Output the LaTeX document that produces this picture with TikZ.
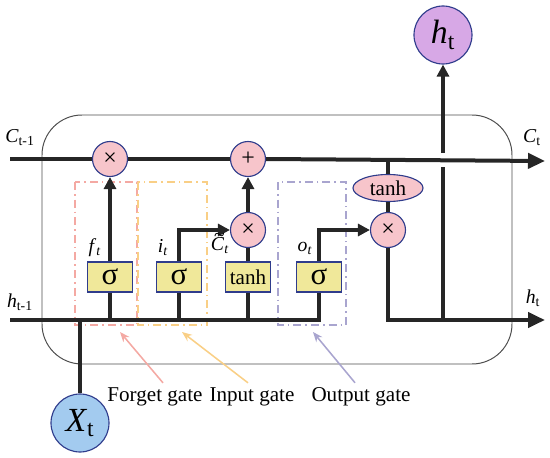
\documentclass[tikz,border=0pt]{standalone}
\usepackage{fontspec}
\setmainfont{Liberation Serif}
\usetikzlibrary{arrows.meta,positioning,shapes.geometric}
\definecolor{oppink}{HTML}{F7C5CB}
\definecolor{edgeblue}{HTML}{2F3C8C}
\definecolor{gateyellow}{HTML}{F0E89A}
\definecolor{xblue}{HTML}{A3CBEF}
\definecolor{hpurple}{HTML}{D7A8E6}
\definecolor{fgcol}{HTML}{F4A9A3}
\definecolor{igcol}{HTML}{F9CF86}
\definecolor{ogcol}{HTML}{A9A5CF}
\newcommand{\ctil}{\ooalign{\textit{C}\cr\hidewidth\kern0.2em\raisebox{0.5em}{\textasciitilde}\hidewidth\cr}}

\begin{document}
\begin{tikzpicture}[x=0.25mm,y=-0.25mm,
  op/.style={circle,draw=edgeblue,fill=oppink,line width=0.8pt,minimum size=8.75mm,inner sep=0pt,font=\fontsize{17}{17}\selectfont},
  gt/.style={rectangle,draw=edgeblue,fill=gateyellow,line width=0.8pt,minimum width=11.25mm,minimum height=7.5mm,inner sep=0pt},
  io/.style={circle,draw=edgeblue,line width=0.8pt,minimum size=14.5mm,inner sep=0pt,font=\fontsize{24}{24}\selectfont},
  ed/.style={line width=1mm,black!85},
  ar/.style={ed,-{Triangle[length=3mm,width=3mm]}},
  big/.style={ed,-{Triangle[length=4.25mm,width=3.75mm]}},
  gbox/.style={line width=1.1pt,dash pattern=on 2mm off 1mm on 0.4mm off 1mm},
  garr/.style={line width=1.1pt,-{Stealth[length=2.5mm,width=2mm]}},
  lb/.style={font=\fontsize{14}{16}\selectfont},
  vl/.style={font=\fontsize{15}{16}\selectfont}
]
\useasboundingbox (0,0) rectangle (550,458);
% ---- cell frame and gate regions ----
\draw[black!70,line width=0.7pt,rounded corners=10mm] (42,115) rectangle (512,364);
\draw[gbox,fgcol] (75,182) rectangle (137,325);
\draw[gbox,igcol] (138,182) rectangle (207,325);
\draw[gbox,ogcol] (278,182) rectangle (346,325);
% ---- operations ----
\node[op] (mf) at (110,159) {×};
\node[op] (pl) at (248,159) {+};
\node[op] (mi) at (248,230) {×};
\node[op] (mo) at (388,230) {×};
\node[ellipse,draw=edgeblue,fill=oppink,line width=0.8pt,minimum width=17.5mm,minimum height=6.75mm,inner sep=0pt,font=\fontsize{15}{15}\selectfont] (th) at (388,188) {tanh};
\node[gt,font=\fontsize{22}{22}\selectfont] (sf) at (110,277) {σ};
\node[gt,font=\fontsize{22}{22}\selectfont] (si) at (179,277) {σ};
\node[gt,font=\fontsize{15}{15}\selectfont] (st) at (248,277) {tanh};
\node[gt,font=\fontsize{22}{22}\selectfont] (so) at (319,277) {σ};
\node[io,fill=hpurple] (hto) at (443,35) {\textit{h}\textsubscript{t}};
\node[io,fill=xblue] (xt) at (80,423) {\textit{X}\textsubscript{t}};
% ---- line ends ----
\coordinate (cin) at (10,159);
\coordinate (cout) at (545,161);
\coordinate (hin) at (10,320);
\coordinate (hout) at (545,320);
\coordinate (cj) at (388,160);
\coordinate (hj) at (443,320);
\coordinate (hlo) at (443,167);
\coordinate (hhi) at (443,153);
% ---- flows ----
\draw[ed] (hj) -- (hlo);
\draw[ar] (hhi) -- (hto.south);
\draw[ed] (cin) -- (mf.west);
\draw[ed] (mf.east) -- (pl.west);
\draw[big] (pl.east) -- (cout);
\draw[ed] (hin) -| (so.south);
\draw[ed] (sf.south) -- (sf.south |- hin);
\draw[ed] (si.south) -- (si.south |- hin);
\draw[ed] (st.south) -- (st.south |- hin);
\draw[ed] (xt.north) -- (xt.north |- hin);
\draw[ar] (sf.north) -- (mf.south);
\draw[ar] (si.north) |- (mi.west);
\draw[ed] (st.north) -- (mi.south);
\draw[ar] (mi.north) -- (pl.south);
\draw[ar] (so.north) |- (mo.west);
\draw[ed] (cj) -- (th.north);
\draw[ed] (th.south) -- (mo.north);
\draw[big] (mo.south) |- (hout);
% ---- labels ----
\node[lb] (cprev) at (20,138) {\textit{C}\textsubscript{t-1}};
\node[lb] (hprev) at (20,302) {\textit{h}\textsubscript{t-1}};
\node[lb] (cnext) at (532,138) {\textit{C}\textsubscript{t}};
\node[lb] (hnext) at (533,298) {\textit{h}\textsubscript{t}};
\node[lb] (fl) at (95,248) {\textit{f}\textsubscript{\textit{t}}};
\node[lb] (il) at (163,248) {\textit{i}\textsubscript{\textit{t}}};
\node[lb] (cl) at (220,246) {\ctil\textsubscript{\textit{t}}};
\node[lb] (ol) at (305,248) {\textit{o}\textsubscript{\textit{t}}};
% ---- gate names ----
\node[vl] (fg) at (155,397) {Forget gate};
\node[vl] (ig) at (252,397) {Input gate};
\node[vl] (og) at (361,397) {Output gate};
\coordinate (fgtip) at (120,332);
\coordinate (igtip) at (182,332);
\coordinate (ogtip) at (313,332);
\draw[garr,fgcol] ([xshift=2mm]fg.north) -- (fgtip);
\draw[garr,igcol] ([xshift=-1mm]ig.north) -- (igtip);
\draw[garr,ogcol] ([xshift=-1.5mm]og.north) -- (ogtip);
\end{tikzpicture}
\end{document}
